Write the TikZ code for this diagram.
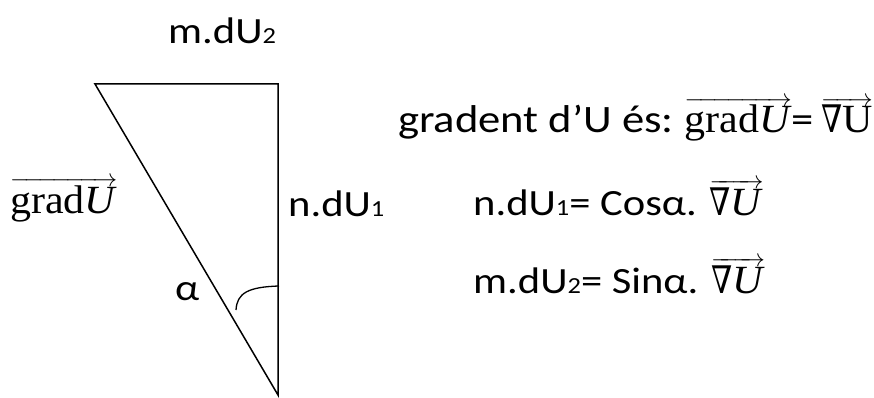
\documentclass[tikz,border=0pt]{standalone}
\usepackage{fontspec}
\setmainfont{Carlito}[FakeStretch=1.15]
\newfontfamily\serifx{Liberation Serif}[FakeStretch=1.05]
\newfontfamily\nablafont{DejaVu Serif}[FakeStretch=0.8]
\newcommand\vecover[1]{\ensuremath{\overrightarrow{\mbox{#1}}}}
\newcommand\subd[1]{{\fontsize{23}{23}\selectfont #1}}
\newcommand\serifbig{\fontsize{40}{46}\selectfont\serifx}
\newcommand\nab{{\fontsize{38}{46}\selectfont\nablafont ∇}}
\begin{document}
\begin{tikzpicture}[x=1pt,y=-1pt,
  txt/.style={anchor=base west,inner sep=0pt,font=\fontsize{37}{44}\selectfont},
  bigtxt/.style={txt,font=\fontsize{38.8}{46}\selectfont},
  edge/.style={line width=1.5pt,line join=miter}]
\useasboundingbox (0,0) rectangle (874,398);
\coordinate (A) at (95,84);
\coordinate (B) at (278,84);
\coordinate (C) at (278,395);
\draw[edge] (A) -- (B) -- (C) -- cycle;
\coordinate (arcS) at (236,310);
\coordinate (arcE) at (279,286);
\draw[line width=1.3pt] (arcS) .. controls (237,293) and (248,287) .. (arcE);
\node[txt] (top) at (168,44) {m.dU\subd{2}};
\node[txt] (gradL) at (10,213) {\vecover{\serifbig grad\textit{U}}};
\node[txt] (side) at (288,216) {n.dU\subd{1}};
\node[txt] (alpha) at (175,300) {α};
\node[bigtxt] (eq1) at (398,133) {gradent d’U és:\hspace{0.28em}\vecover{\serifbig grad\textit{U}}=\hspace{0.18em}\vecover{\nab\serifbig U}};
\node[txt] (eq2) at (473,215) {n.dU\subd{1}= Cosα. \vecover{\nab\serifbig\textit{U}}};
\node[txt] (eq3) at (473,293) {m.dU\subd{2}= Sinα. \vecover{\nab\serifbig\textit{U}}};
\end{tikzpicture}
\end{document}
